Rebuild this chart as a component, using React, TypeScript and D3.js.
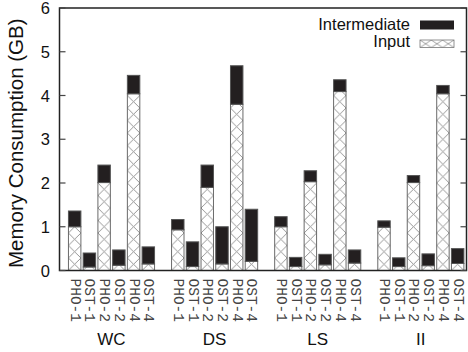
import React from "react";
import * as d3 from "d3";

// Memory use per configuration, grouped by workload (GB)
const groups = ["WC", "DS", "LS", "II"];
const configs = ["PHO-1", "OST-1", "PHO-2", "OST-2", "PHO-4", "OST-4"];
const inputGB = [
  [1.0, 0.08, 2.01, 0.12, 4.04, 0.15],
  [0.93, 0.09, 1.9, 0.15, 3.8, 0.21],
  [1.0, 0.09, 2.03, 0.13, 4.09, 0.17],
  [0.99, 0.09, 2.01, 0.11, 4.04, 0.16],
];
const intermediateGB = [
  [0.36, 0.32, 0.4, 0.35, 0.42, 0.39],
  [0.235, 0.565, 0.51, 0.85, 0.88, 1.19],
  [0.23, 0.21, 0.25, 0.24, 0.27, 0.3],
  [0.145, 0.2, 0.16, 0.27, 0.19, 0.34],
];
const yTicks = [0, 1, 2, 3, 4, 5, 6];
const seriesNames = ["Intermediate", "Input"];

const W = 468;
const H = 352;
const left = 59.5;
const right = 466.5;
const top = 8;
const bottom = 270.5;

export default function App() {
  const slotsPerGroup = configs.length + 1;
  const x = d3
    .scaleLinear()
    .domain([-1.03, groups.length * slotsPerGroup - 1.4])
    .range([left, right]);
  const y = d3.scaleLinear().domain([0, 6]).range([bottom, top]);
  const step = x(1) - x(0);
  const barW = step * 0.845;

  const bars = groups.flatMap((g, gi) =>
    configs.map((c, ci) => {
      const pos = gi * slotsPerGroup + ci;
      const cx = x(pos);
      const inp = inputGB[gi][ci];
      const mid = intermediateGB[gi][ci];
      return { key: `${g}-${c}`, g, c, cx, inp, mid, x0: cx - barW / 2 };
    })
  );

  const hatchStroke = "#8a8a8a";

  return (
    <svg
      width={W}
      height={H}
      style={{ position: "absolute", left: 0, top: 0, background: "#fff" }}
      fontFamily="'Liberation Sans', Arial, sans-serif"
    >
      <defs>
        {bars.map((b) => (
          <pattern
            key={b.key}
            id={`hatch-${b.key}`}
            patternUnits="userSpaceOnUse"
            x={b.x0}
            y={bottom}
            width={barW}
            height={12.5}
          >
            <rect width={barW} height={12.5} fill="#fff" />
            <path
              d={`M0,0L${barW},12.5M0,12.5L${barW},0`}
              stroke={hatchStroke}
              strokeWidth={0.9}
              fill="none"
            />
          </pattern>
        ))}
        <pattern
          id="hatch-legend"
          patternUnits="userSpaceOnUse"
          x={420}
          y={40}
          width={11.3}
          height={7.5}
        >
          <rect width={11.3} height={7.5} fill="#fff" />
          <path
            d="M0,0L11.3,7.5M0,7.5L11.3,0"
            stroke={hatchStroke}
            strokeWidth={0.8}
            fill="none"
          />
        </pattern>
      </defs>

      {/* stacked bars: input below, intermediate on top */}
      {bars.map((b) => (
        <g key={b.key}>
          <rect
            x={b.x0}
            y={y(b.inp)}
            width={barW}
            height={bottom - y(b.inp)}
            fill={`url(#hatch-${b.key})`}
            stroke="#6a6a6a"
            strokeWidth={1}
          />
          <rect
            x={b.x0}
            y={y(b.inp + b.mid)}
            width={barW}
            height={y(b.inp) - y(b.inp + b.mid)}
            fill="#231f20"
            stroke="#555"
            strokeWidth={1}
          />
        </g>
      ))}

      {/* frame and ticks */}
      <rect
        x={left}
        y={top}
        width={right - left}
        height={bottom - top}
        fill="none"
        stroke="#222"
        strokeWidth={1.5}
      />
      {yTicks.map((t) => (
        <g key={t}>
          <line x1={left} x2={left + 6} y1={y(t)} y2={y(t)} stroke="#444" strokeWidth={1.2} />
          <line x1={right - 6} x2={right} y1={y(t)} y2={y(t)} stroke="#444" strokeWidth={1.2} />
          <text
            x={50}
            y={y(t)}
            textAnchor="end"
            dominantBaseline="central"
            fontSize={16.5}
            fill="#111"
          >
            {t}
          </text>
        </g>
      ))}

      {/* rotated configuration labels */}
      {bars.map((b) => (
        <text
          key={`lbl-${b.key}`}
          transform={`translate(${b.cx},${bottom + 8}) rotate(90)`}
          textAnchor="start"
          dominantBaseline="central"
          fontFamily="'Liberation Mono', 'DejaVu Sans Mono', monospace"
          fontSize={14.5}
          fill="#444"
        >
          {b.c}
        </text>
      ))}

      {/* workload labels */}
      {groups.map((g, gi) => (
        <text
          key={`g-${g}`}
          x={x(gi * slotsPerGroup + (configs.length - 1) / 2)}
          y={345}
          textAnchor="middle"
          fontSize={17}
          fill="#111"
        >
          {g}
        </text>
      ))}

      {/* y-axis title */}
      <text
        transform={`translate(23,${(top + bottom) / 2 + 4}) rotate(-90)`}
        textAnchor="middle"
        fontSize={20.5}
        fill="#111"
      >
        Memory Consumption (GB)
      </text>

      {/* legend */}
      <text x={410} y={30} textAnchor="end" fontSize={16.5} fill="#111">
        {seriesNames[0]}
      </text>
      <rect x={420} y={20.5} width={34} height={9} fill="#231f20" />
      <text x={410} y={47} textAnchor="end" fontSize={16.5} fill="#111">
        {seriesNames[1]}
      </text>
      <rect
        x={420}
        y={40}
        width={34}
        height={7.5}
        fill="url(#hatch-legend)"
        stroke="#777"
        strokeWidth={0.8}
      />
    </svg>
  );
}
